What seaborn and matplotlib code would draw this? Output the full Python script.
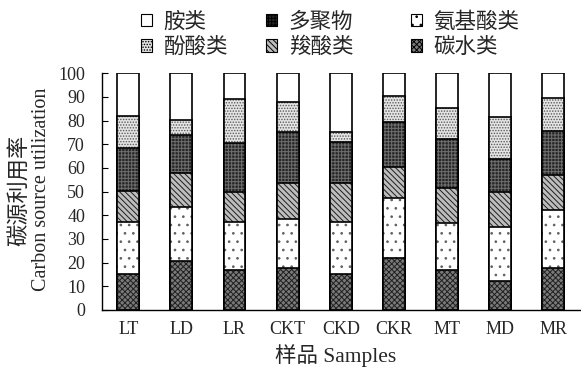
import matplotlib
matplotlib.use("Agg")
import matplotlib.pyplot as plt
import seaborn as sns
import numpy as np
from matplotlib.patches import Patch
from matplotlib.ticker import FixedLocator

# Samples on the x axis
samples = ["LT", "LD", "LR", "CKT", "CKD", "CKR", "MT", "MD", "MR"]

# Share (%) of each carbon source group, bottom to top of each bar
carbohydrates = [15.0, 20.5, 16.7, 17.8, 15.0, 21.9, 16.7, 12.4, 17.8]   # 碳水类
amino_acids   = [22.0, 23.0, 20.4, 20.8, 22.1, 25.4, 20.0, 22.6, 24.3]   # 氨基酸类
carboxylic    = [13.3, 14.4, 12.5, 14.8, 16.3, 12.9, 14.8, 14.6, 15.1]   # 羧酸类
polymers      = [18.2, 16.0, 21.0, 21.9, 17.6, 19.0, 20.9, 14.1, 18.5]   # 多聚物
phenolic      = [13.4,  6.3, 18.5, 12.7,  4.0, 11.2, 13.0, 17.9, 13.7]   # 酚酸类
amines        = [18.1, 19.8, 10.9, 12.0, 25.0,  9.6, 14.6, 18.4, 10.6]   # 胺类

y_ticks = [0, 10, 20, 30, 40, 50, 60, 70, 80, 90, 100]

sns.set_style("white")
LATIN = "Liberation Serif"
CJK = "Noto Sans CJK SC"
plt.rcParams["font.family"] = [LATIN, CJK]
plt.rcParams["hatch.linewidth"] = 0.7

# (name, values, face, hatch, hatch colour) from bottom to top
layers = [
    ("碳水类", carbohydrates, "#7a7a7a", "xxxxxx", "#202020"),
    ("氨基酸类", amino_acids, "#ffffff", "..", "#606060"),
    ("羧酸类", carboxylic, "#bdbdbd", "\\\\\\\\\\\\", "#1e1e1e"),
    ("多聚物", polymers, "#262626", "+++++", "#6e6e6e"),
    ("酚酸类", phenolic, "#e4e4e4", "......", "#5a5a5a"),
    ("胺类", amines, "#ffffff", "", "#000000"),
]

fig = plt.figure(figsize=(5.81, 3.68), dpi=100)
ax = fig.add_axes([0.175, 0.158, 0.823, 0.643])

tops = np.cumsum([np.asarray(v) for _, v, *_ in layers], axis=0)
bar_w = 0.41

# Draw cumulative heights from the top layer down so each lower layer covers the one above
for i in range(len(layers) - 1, -1, -1):
    name, _, face, hatch, hcol = layers[i]
    n0 = len(ax.patches)
    sns.barplot(x=samples, y=tops[i], color=face, saturation=1, width=bar_w,
                ax=ax, order=samples)
    for p in ax.patches[n0:]:
        p.set_facecolor(face)
        p.set_edgecolor(hcol)
        p.set_hatch(hatch)
        p.set_linewidth(0)
    n1 = len(ax.patches)
    sns.barplot(x=samples, y=tops[i], color="black", saturation=1, width=bar_w,
                ax=ax, order=samples)
    for p in ax.patches[n1:]:
        p.set_facecolor("none")
        p.set_edgecolor("black")
        p.set_linewidth(1.2)

ax.set_xlim(-0.5, len(samples) - 0.5)
ax.set_ylim(0, 100)
ax.set_yticks(y_ticks)
ax.set_yticklabels([str(t) for t in y_ticks], fontsize=13, family=LATIN)
ax.set_xticks(range(len(samples)))
ax.set_xticklabels(samples, fontsize=13, family=LATIN)
ax.xaxis.set_minor_locator(FixedLocator(np.arange(0.5, len(samples) - 1, 1.0)))
ax.tick_params(axis="x", which="major", length=0, pad=8)
ax.tick_params(axis="x", which="minor", direction="in", length=3, width=0.8, color="black")
ax.tick_params(axis="y", which="major", direction="in", length=4, width=0.8, pad=12,
               color="black", left=True)

for s in ["top", "right"]:
    ax.spines[s].set_visible(False)
for s in ["left", "bottom"]:
    ax.spines[s].set_color("black")
    ax.spines[s].set_linewidth(1.0)

ax.set_xlabel("")
ax.set_ylabel("")
fig.text(0.578, 0.035, "样品 Samples", ha="center", va="center", fontsize=15.5,
         family=[LATIN, CJK])
fig.text(0.034, 0.483, "碳源利用率", rotation=90, ha="center", va="center",
         fontsize=16, family=[CJK])
fig.text(0.072, 0.486, "Carbon source utilization", rotation=90, ha="center",
         va="center", fontsize=14.5, family=[LATIN])

# Legend: three columns of two entries
by_name = {n: (f, h) for n, _, f, h, _ in layers}
columns = [(["胺类", "酚酸类"], 141), (["多聚物", "羧酸类"], 266), (["氨基酸类", "碳水类"], 411)]
for names, xpix in columns:
    handles = [Patch(facecolor=by_name[n][0], hatch=by_name[n][1], edgecolor="black",
                     linewidth=0.8, label=n) for n in names]
    fig.legend(handles=handles, loc="upper left", bbox_to_anchor=(xpix / 581, 1 - 11 / 368),
               frameon=False, borderpad=0, borderaxespad=0, handlelength=0.5,
               handleheight=0.5, handletextpad=0.55, labelspacing=0.15,
               prop={"family": [CJK], "size": 15.5})

fig.savefig("out.png", dpi=100)
